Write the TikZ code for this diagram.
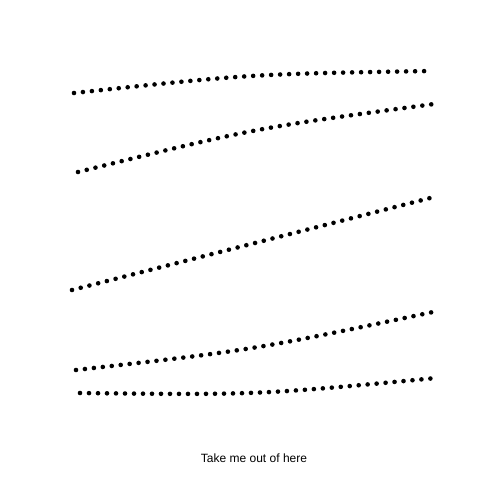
\documentclass[tikz,border=0pt]{standalone}
\usepackage{fontspec}
\setmainfont{Liberation Sans}
\begin{document}
\begin{tikzpicture}[x=1pt,y=-1pt,
  dotline/.style={line width=4.6pt, line cap=round, dash pattern=on 0pt off 9pt, black},
  lbl/.style={font=\fontsize{12}{14}\selectfont, inner sep=0pt}]
\useasboundingbox (0,0) rectangle (480,480);
\coordinate (a1) at (74,93);  \coordinate (b1) at (431,71);
\coordinate (a2) at (78,172); \coordinate (b2) at (434,104);
\coordinate (a3) at (72,290); \coordinate (b3) at (438,196);
\coordinate (a4) at (76,370); \coordinate (b4) at (433,312);
\coordinate (a5) at (80,393); \coordinate (b5) at (436,378);
\draw[dotline] (a1) .. controls (251,74) .. (b1);
\draw[dotline] (a2) .. controls (255,128) .. (b2);
\draw[dotline] (a3) -- (b3);
\draw[dotline] (a4) .. controls (253,350) .. (b4);
\draw[dotline] (a5) .. controls (257,395) .. (b5);
\node[lbl] (t) at (254,458) {Take me out of here};
\end{tikzpicture}
\end{document}
